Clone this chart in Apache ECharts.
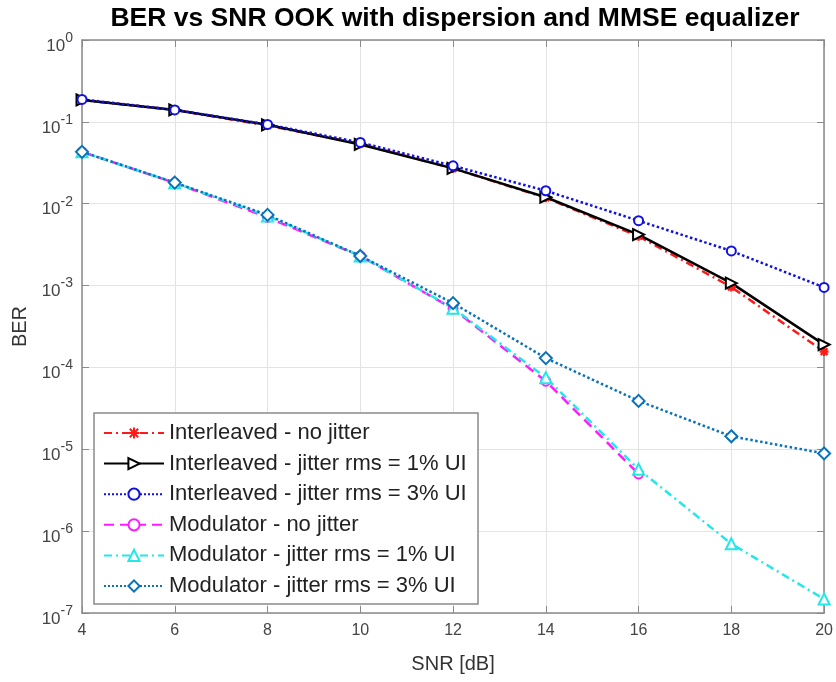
<!DOCTYPE html>
<html>
<head>
<meta charset="utf-8">
<script src="https://cdn.jsdelivr.net/npm/echarts@6/dist/echarts.min.js"></script>
<style>
html,body{margin:0;padding:0;background:#fff;}
#c{width:836px;height:682px;}
</style>
</head>
<body>
<div id="c"></div>
<script>
var snr = [4, 6, 8, 10, 12, 14, 16, 18, 20];
var interleavedNoJitter = [0.185, 0.14, 0.09, 0.054, 0.027, 0.0118, 0.004, 0.00096, 0.000156];
var interleavedJitter1 = [0.185, 0.14, 0.092, 0.053, 0.027, 0.012, 0.0042, 0.00107, 0.00019];
var interleavedJitter3 = [0.188, 0.14, 0.093, 0.056, 0.029, 0.0144, 0.0062, 0.00265, 0.00095];
var modulatorNoJitter = [0.043, 0.018, 0.0068, 0.0023, 0.00052, 0.000068, 0.000005];
var modulatorJitter1 = [0.043, 0.018, 0.0071, 0.0023, 0.00053, 0.000075, 0.0000057, 0.0000007, 0.000000148];
var modulatorJitter3 = [0.043, 0.0181, 0.0073, 0.0023, 0.00061, 0.00013, 0.000039, 0.0000144, 0.0000089];
var seriesNames = [
  'Interleaved - no jitter',
  'Interleaved - jitter rms = 1% UI',
  'Interleaved - jitter rms = 3% UI',
  'Modulator - no jitter',
  'Modulator - jitter rms = 1% UI',
  'Modulator - jitter rms = 3% UI'
];
var xTicks = [4, 6, 8, 10, 12, 14, 16, 18, 20];

function pairs(vals){ return vals.map(function(v,i){ return [snr[i], v]; }); }

var FONT = '"Liberation Sans", Arial, Helvetica, sans-serif';
var asterisk = 'path://M0,-10L0,10M-10,0L10,0M-7.5,-7.5L7.5,7.5M-7.5,7.5L7.5,-7.5';

var chart = echarts.init(document.getElementById('c'), null, {renderer:'canvas'});

function mk(name, vals, color, type, symbol, size, rotate){
  return {
    name: name, type: 'line', data: pairs(vals),
    xAxisIndex: 0, yAxisIndex: 0,
    symbol: symbol, symbolSize: size, symbolRotate: rotate || 0,
    showSymbol: true,
    lineStyle: {color: color, width: 2.5, type: type},
    itemStyle: {color: color, borderColor: color, borderWidth: 2.4},
    emphasis: {disabled: true},
    animation: false
  };
}

var frameColor = '#8a8a8a';
var option = {
  backgroundColor: '#fff',
  animation: false,
  title: {
    text: 'BER vs SNR OOK with dispersion and MMSE equalizer',
    left: 455, top: 5, textAlign: 'center', padding: 0,
    textStyle: {fontFamily: FONT, fontSize: 26.5, fontWeight: 'bold', color: '#000'}
  },
  grid: {left: 82, right: 11, top: 40, bottom: 69, show: false},
  legend: {
    orient: 'vertical', left: 94, top: 413,
    padding: [9, 4, 7, 9],
    itemWidth: 60, itemHeight: 14, itemGap: 8.6,
    backgroundColor: '#fff', borderColor: '#8a8a8a', borderWidth: 1.5,
    textStyle: {fontFamily: FONT, fontSize: 22, lineHeight: 22, color: '#222', width: 305},
    data: seriesNames
  },
  xAxis: [{
    type: 'value', min: 4, max: 20, interval: 2, position: 'bottom',
    name: 'SNR [dB]', nameLocation: 'middle', nameGap: 41,
    nameTextStyle: {fontFamily: FONT, fontSize: 20, color: '#333'},
    axisLine: {show: true, lineStyle: {color: frameColor, width: 1.5}},
    axisTick: {show: true, inside: true, length: 7, lineStyle: {color: frameColor}},
    axisLabel: {fontFamily: FONT, fontSize: 16, color: '#444', margin: 10,
      formatter: function(v){ return xTicks.indexOf(v) >= 0 ? String(v) : ''; }},
    splitLine: {show: true, lineStyle: {color: '#e3e3e3', width: 1}}
  },{
    type: 'value', min: 4, max: 20, interval: 2, position: 'top',
    axisLine: {show: true, lineStyle: {color: frameColor, width: 1.5}},
    axisTick: {show: true, inside: true, length: 7, lineStyle: {color: frameColor}},
    axisLabel: {show: false}, splitLine: {show: false}
  }],
  yAxis: [{
    type: 'log', logBase: 10, min: 1e-7, max: 1, position: 'left',
    name: 'BER', nameLocation: 'middle', nameGap: 46, nameRotate: 90,
    nameTextStyle: {fontFamily: FONT, fontSize: 20, color: '#333'},
    axisLine: {show: true, lineStyle: {color: frameColor, width: 1.5}},
    axisTick: {show: true, inside: true, length: 7, lineStyle: {color: frameColor}},
    minorTick: {show: false},
    axisLabel: {
      margin: 9,
      formatter: function(v){
        var e = Math.round(Math.log10(v));
        return '{b|10}{s|' + e + '}';
      },
      rich: {
        b: {fontFamily: FONT, fontSize: 17, color: '#444', padding: [12, 0, 0, 0]},
        s: {fontFamily: FONT, fontSize: 14, color: '#444', padding: [0, 0, 4, 0]}
      }
    },
    splitLine: {show: true, lineStyle: {color: '#e3e3e3', width: 1}}
  },{
    type: 'log', logBase: 10, min: 1e-7, max: 1, position: 'right',
    axisLine: {show: true, lineStyle: {color: frameColor, width: 1.5}},
    axisTick: {show: true, inside: true, length: 7, lineStyle: {color: frameColor}},
    axisLabel: {show: false}, splitLine: {show: false}
  }],
  series: [
    mk(seriesNames[0], interleavedNoJitter, '#ff1a1a', [8, 4, 2, 4], asterisk, 9),
    mk(seriesNames[1], interleavedJitter1, '#000000', 'solid', 'emptyTriangle', 11, -90),
    mk(seriesNames[2], interleavedJitter3, '#1010e0', 'dotted', 'emptyCircle', 9),
    mk(seriesNames[3], modulatorNoJitter, '#ff1aff', [10, 6], 'emptyCircle', 9),
    mk(seriesNames[4], modulatorJitter1, '#22e8e8', [8, 4, 2, 4], 'emptyTriangle', 11),
    mk(seriesNames[5], modulatorJitter3, '#0a72b8', 'dotted', 'emptyDiamond', 12)
  ]
};
chart.setOption(option);
</script>
</body>
</html>
